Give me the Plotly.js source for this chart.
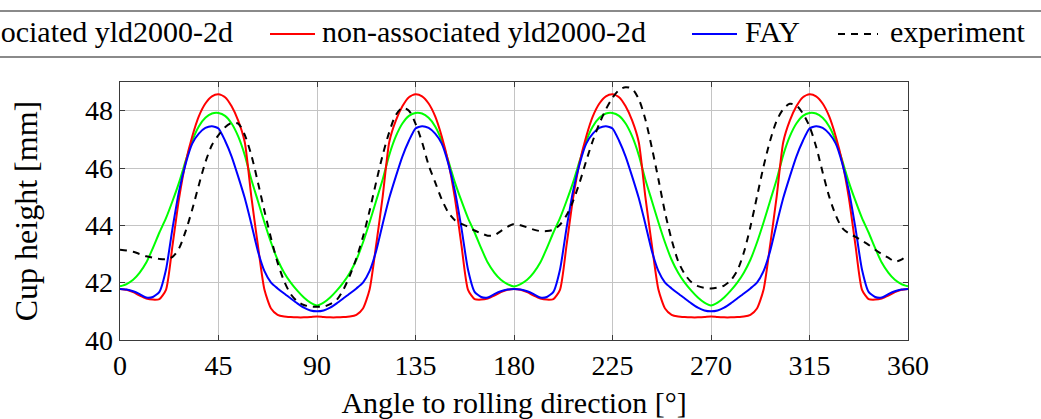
<!DOCTYPE html>
<html>
<head>
<meta charset="utf-8">
<script src="https://cdn.plot.ly/plotly-3.0.1.min.js"></script>
<style>
  html, body { margin: 0; padding: 0; overflow: hidden; background: #fff; }
  body { width: 1041px; height: 419px; position: relative; }
  #plot { position: absolute; left: -300px; top: 0; width: 1541px; height: 419px; }
  #plot text { font-family: "Liberation Serif", serif !important; }
  .legtext { position: absolute; top: 17px; font-family: "Liberation Serif", serif; font-size: 30px;
             line-height: 30px; color: #000; white-space: nowrap; z-index: 5; }
</style>
</head>
<body>
<div id="plot"></div>
<div id="legend"></div>
<script>
// Angle to rolling direction [deg]
const angles = [0,3,6,9,12,15,18,21,24,27,30,33,36,39,42,45,48,51,54,57,60,63,66,69,72,75,78,81,84,87,90,
  93,96,99,102,105,108,111,114,117,120,123,126,129,132,135,138,141,144,147,150,153,156,159,162,165,168,171,174,177,180,
  183,186,189,192,195,198,201,204,207,210,213,216,219,222,225,228,231,234,237,240,243,246,249,252,255,258,261,264,267,270,
  273,276,279,282,285,288,291,294,297,300,303,306,309,312,315,318,321,324,327,330,333,336,339,342,345,348,351,354,357,360];

// associated yld2000-2d (green)
const assocYld = [41.87,41.95,42.1,42.35,42.7,43.2,43.75,44.25,44.85,45.5,46.25,46.95,47.45,47.75,47.9,47.92,47.82,47.55,47.1,46.45,45.6,44.85,44.1,43.4,42.8,42.35,42.0,41.72,41.48,41.3,41.2,
  41.3,41.48,41.72,42.0,42.35,42.8,43.4,44.1,44.85,45.6,46.45,47.1,47.55,47.82,47.92,47.9,47.75,47.45,46.95,46.25,45.5,44.85,44.25,43.75,43.2,42.7,42.35,42.1,41.95,41.87,
  41.95,42.1,42.35,42.7,43.2,43.75,44.25,44.85,45.5,46.25,46.95,47.45,47.75,47.9,47.92,47.82,47.55,47.1,46.45,45.6,44.85,44.1,43.4,42.8,42.35,42.0,41.72,41.48,41.3,41.2,
  41.3,41.48,41.72,42.0,42.35,42.8,43.4,44.1,44.85,45.6,46.45,47.1,47.55,47.82,47.92,47.9,47.75,47.45,46.95,46.25,45.5,44.85,44.25,43.75,43.2,42.7,42.35,42.1,41.95,41.87];

// non-associated yld2000-2d (red)
const nonAssocYld = [41.78,41.75,41.67,41.55,41.45,41.41,41.43,41.75,43.3,44.95,46.2,47.1,47.8,48.25,48.5,48.57,48.47,48.15,47.65,46.9,45.0,43.3,41.75,41.1,40.88,40.82,40.8,40.79,40.79,40.8,40.82,
  40.8,40.79,40.79,40.8,40.82,40.88,41.1,41.75,43.3,45.0,46.9,47.65,48.15,48.47,48.57,48.5,48.25,47.8,47.1,46.2,44.95,43.3,41.75,41.43,41.41,41.45,41.55,41.67,41.75,41.78,
  41.75,41.67,41.55,41.45,41.41,41.43,41.75,43.3,44.95,46.2,47.1,47.8,48.25,48.5,48.57,48.47,48.15,47.65,46.9,45.0,43.3,41.75,41.1,40.88,40.82,40.8,40.79,40.79,40.8,40.82,
  40.8,40.79,40.79,40.8,40.82,40.88,41.1,41.75,43.3,45.0,46.9,47.65,48.15,48.47,48.57,48.5,48.25,47.8,47.1,46.2,44.95,43.3,41.75,41.43,41.41,41.45,41.55,41.67,41.75,41.78];

// FAY (blue)
const fay = [41.78,41.76,41.7,41.6,41.48,41.5,41.68,42.45,43.9,45.2,46.15,46.85,47.2,47.4,47.46,47.38,46.95,46.4,45.7,44.95,44.05,43.1,42.4,42.0,41.8,41.62,41.45,41.28,41.13,41.03,41.0,
  41.03,41.13,41.28,41.45,41.62,41.8,42.0,42.4,43.1,44.05,44.95,45.7,46.4,46.95,47.38,47.46,47.4,47.2,46.85,46.15,45.2,43.9,42.45,41.68,41.5,41.48,41.6,41.7,41.76,41.78,
  41.76,41.7,41.6,41.48,41.5,41.68,42.45,43.9,45.2,46.15,46.85,47.2,47.4,47.46,47.38,46.95,46.4,45.7,44.95,44.05,43.1,42.4,42.0,41.8,41.62,41.45,41.28,41.13,41.03,41.0,
  41.03,41.13,41.28,41.45,41.62,41.8,42.0,42.4,43.1,44.05,44.95,45.7,46.4,46.95,47.38,47.46,47.4,47.2,46.85,46.15,45.2,43.9,42.45,41.68,41.5,41.48,41.6,41.7,41.76,41.78];

// experiment (black dashed)
const experiment = [43.15,43.12,43.08,43.0,42.92,42.87,42.83,42.82,42.9,43.2,43.8,44.55,45.4,46.2,46.8,47.15,47.42,47.57,47.55,47.15,46.45,45.5,44.5,43.55,42.7,42.05,41.6,41.35,41.22,41.17,41.16,
  41.16,41.25,41.4,41.75,42.25,42.85,43.6,44.5,45.5,46.45,47.25,47.85,48.1,48.0,47.55,46.9,46.1,45.5,44.9,44.45,44.18,44.05,43.95,43.82,43.72,43.64,43.65,43.8,43.95,44.05,
  44.0,43.93,43.85,43.8,43.8,43.85,44.02,44.35,44.85,45.5,46.25,46.95,47.55,48.05,48.45,48.72,48.82,48.76,48.4,47.7,46.7,45.6,44.45,43.5,42.75,42.3,42.02,41.88,41.82,41.8,
  41.83,41.9,42.08,42.42,43.05,43.95,45.0,46.05,46.95,47.65,48.05,48.24,48.18,47.9,47.45,46.75,45.85,45.0,44.35,43.9,43.72,43.6,43.46,43.32,43.15,43.0,42.87,42.74,42.8,43.0];

const xTicks = [0,45,90,135,180,225,270,315,360];
const yTicks = [40,42,44,46,48];
const seriesNames = ['associated yld2000-2d','non-associated yld2000-2d','FAY','experiment'];
const seriesColors = ['#00ff00','#ff0000','#0000ff','#000000'];
const seriesDash = ['solid','solid','solid','7px,6px'];

const FONT = 'Liberation Serif';

const seriesData = [assocYld, nonAssocYld, fay, experiment];
const traces = seriesData.map(function(vals, i) {
  return {x: angles, y: vals, name: seriesNames[i], type: 'scatter', mode: 'lines',
          line: {color: seriesColors[i], width: 2, dash: seriesDash[i], shape: 'spline', smoothing: i === 3 ? 0.8 : 0.6}};
});

// legend layout (page pixels -> paper fractions; plot area spans page x 120..908, y 82..340)
const pxX = function(p) { return (p - 120) / 788; };
const pxY = function(p) { return (340 - p) / 258; };
const legendTextX = [-36, 322, 745, 890];
const legendLineX = [[-88, -43], [270, 315], [692, 737], [838, 878]];

const shapes = [
  {type: 'rect', xref: 'paper', yref: 'paper', x0: -0.55, x1: 1.5, y0: pxY(57), y1: pxY(11),
   line: {color: '#8a8a8a', width: 2}, fillcolor: 'rgba(0,0,0,0)', layer: 'above'}
];
seriesNames.forEach(function(name, i) {
  shapes.push({type: 'line', xref: 'paper', yref: 'paper',
    x0: pxX(legendLineX[i][0]), x1: pxX(legendLineX[i][1]), y0: pxY(34), y1: pxY(34),
    line: {color: seriesColors[i], width: 2, dash: seriesDash[i]}, layer: 'above'});
});

// legend entry texts
const legendDiv = document.getElementById('legend');
seriesNames.forEach(function(name, i) {
  const s = document.createElement('span');
  s.className = 'legtext';
  s.style.left = legendTextX[i] + 'px';
  s.textContent = name;
  legendDiv.appendChild(s);
});

const layout = {
  width: 1541, height: 419,
  margin: {l: 420, r: 333, t: 82, b: 79, autoexpand: false},
  paper_bgcolor: '#ffffff', plot_bgcolor: '#ffffff',
  font: {family: FONT, size: 28, color: '#000'},
  showlegend: false,
  xaxis: {
    range: [0, 360], tickvals: xTicks, ticktext: xTicks.map(String),
    showgrid: true, gridcolor: '#c4c4c4', gridwidth: 1,
    showline: true, linecolor: '#3a3a3a', linewidth: 1.3, mirror: 'allticks',
    ticks: 'inside', ticklen: 5, tickwidth: 1, tickcolor: '#3a3a3a',
    zeroline: false, tickfont: {family: FONT, size: 28, color: '#000'},
    title: {text: 'Angle to rolling direction [°]', font: {family: FONT, size: 30, color: '#000'}, standoff: 12}
  },
  yaxis: {
    range: [40, 49], tickvals: yTicks, ticktext: yTicks.map(String),
    showgrid: true, gridcolor: '#c4c4c4', gridwidth: 1,
    showline: true, linecolor: '#3a3a3a', linewidth: 1.3, mirror: 'allticks',
    ticks: 'inside', ticklen: 5, tickwidth: 1, tickcolor: '#3a3a3a',
    zeroline: false, tickfont: {family: FONT, size: 28, color: '#000'},
    title: {text: 'Cup height [mm]', font: {family: FONT, size: 32, color: '#000'}, standoff: 38}
  },
  shapes: shapes
};

Plotly.newPlot('plot', traces, layout, {staticPlot: true, displayModeBar: false});
</script>
</body>
</html>
